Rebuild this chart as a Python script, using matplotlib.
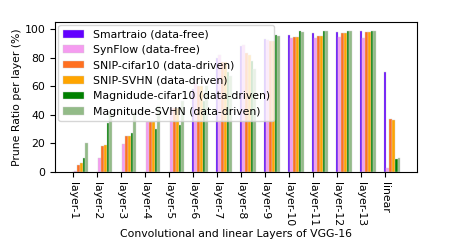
import numpy as np
import matplotlib.pyplot as plt

# layers and pruning ratios (%)
layers = ['layer-1', 'layer-2', 'layer-3', 'layer-4', 'layer-5', 'layer-6', 'layer-7',
          'layer-8', 'layer-9', 'layer-10', 'layer-11', 'layer-12', 'layer-13', 'linear']

smartraio = [0, 0, 0, 0, 0, 58, 80, 88, 93, 96, 97.5, 98, 98.5, 70]
synflow = [0.5, 10, 19.5, 35, 45, 62, 82, 89, 92.5, 93.5, 94, 94.5, 94, 2.5]
snip_cifar10 = [5, 18.5, 25, 35, 45, 60, 77, 83, 91.5, 94.5, 95, 97, 98, 37.3]
snip_svhn = [6, 18.7, 25, 35, 45, 60, 77, 82, 91.5, 94.5, 95.5, 97, 98, 36.6]
mag_cifar10 = [10, 34, 27, 30, 33, 50, 70, 78, 96, 98.5, 99, 99, 99, 8.8]
mag_svhn = [20, 42, 42, 46, 50, 60, 67, 72, 95, 98, 99, 99, 99, 9.7]

series = [
    ('Smartraio (data-free)', smartraio, '#6200ff'),
    ('SynFlow (data-free)', synflow, '#f59cf0'),
    ('SNIP-cifar10 (data-driven)', snip_cifar10, '#ff7020'),
    ('SNIP-SVHN (data-driven)', snip_svhn, '#ffa500'),
    ('Magnidude-cifar10 (data-driven)', mag_cifar10, '#008000'),
    ('Magnitude-SVHN (data-driven)', mag_svhn, '#93bb88'),
]

x = np.arange(len(layers))
w = 0.115
fs = 7.8

fig = plt.figure(figsize=(4.63, 2.45), dpi=100)
ax = fig.add_axes([0.119, 0.298, 0.781, 0.612])

for i, (name, vals, col) in enumerate(series):
    ax.bar(x + i * w, vals, w, color=col, edgecolor='#d0d0d0', linewidth=0.3, label=name)

ax.set_xticks(x)
ax.set_xticklabels(layers, rotation=270, fontsize=fs)
ax.tick_params(axis='y', labelsize=fs)
ax.set_yticks([0, 20, 40, 60, 80, 100])
ax.set_ylim(0, 105)
ax.set_xlabel('Convolutional and linear Layers of VGG-16', fontsize=fs, labelpad=2)
ax.set_ylabel('Prune Ratio per layer (%)', fontsize=fs, labelpad=1.5)
ax.legend(loc='upper left', fontsize=fs, framealpha=0.8, borderaxespad=0.3)

plt.savefig('out.png')
